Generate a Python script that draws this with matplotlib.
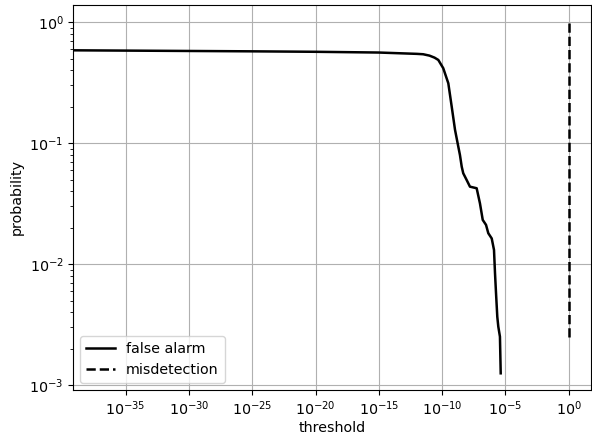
import numpy as np
import matplotlib
matplotlib.use("Agg")
import matplotlib.pyplot as plt
from matplotlib.ticker import NullLocator

plt.rcParams["font.size"] = 10.3

# False alarm curve (threshold, probability)
fa_threshold = [1e-40, 1e-35, 1e-30, 1e-25, 1e-20, 1e-15, 10**-13.3, 10**-12.0, 10**-11.5,
                10**-11.0, 10**-10.6, 10**-10.3, 10**-9.91, 10**-9.51, 10**-9.24, 10**-8.98,
                10**-8.72, 10**-8.59, 10**-8.45, 10**-8.33, 10**-8.06, 10**-7.80, 10**-7.27,
                10**-7.01, 10**-6.79, 10**-6.53, 10**-6.35, 10**-6.08, 10**-5.90, 10**-5.82,
                10**-5.74, 10**-5.64, 10**-5.56, 10**-5.43, 10**-5.37]
fa_prob = [0.587, 0.583, 0.579, 0.575, 0.570, 0.562, 0.554, 0.548, 0.544,
           0.530, 0.510, 0.488, 0.417, 0.313, 0.200, 0.129,
           0.0935, 0.0798, 0.0639, 0.0564, 0.0496, 0.0437, 0.0424,
           0.0318, 0.0232, 0.0211, 0.0180, 0.0163, 0.0131, 0.00839,
           0.00574, 0.00367, 0.00304, 0.00251, 0.00125]

# Misdetection curve
md_threshold = [1.0, 1.0]
md_prob = [0.0025, 1.0]

fig = plt.figure(figsize=(5.92, 4.37), dpi=100)
ax = fig.add_subplot(111)
fig.subplots_adjust(left=0.1238, right=0.9978, top=0.9886, bottom=0.1076)

ax.plot(fa_threshold, fa_prob, color="black", linestyle="-", linewidth=1.8, label="false alarm")
ax.plot(md_threshold, md_prob, color="black", linestyle="--", linewidth=1.8, label="misdetection")

ax.set_xscale("log")
ax.set_yscale("log")
ax.set_xlim(10**-39.14, 10**1.74)
ax.set_ylim(10**-3.041, 10**0.143)
ax.xaxis.set_minor_locator(NullLocator())
ax.set_xticks([10.0**e for e in range(-35, 1, 5)])

ax.grid(True)
ax.set_xlabel("threshold", labelpad=2)
ax.set_ylabel("probability")
ax.legend(loc="lower left")

fig.savefig("out.png", dpi=100)
